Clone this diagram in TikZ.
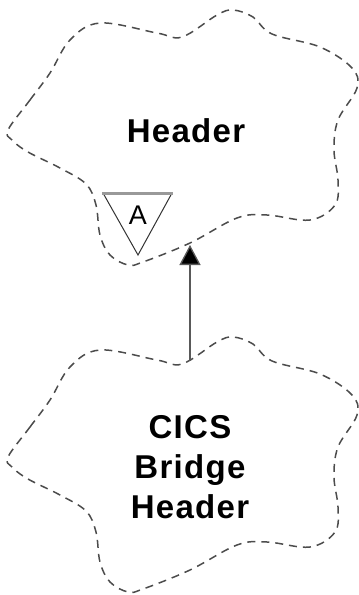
\documentclass[tikz,border=0pt]{standalone}
\usepackage{fontspec}
\setmainfont{Liberation Sans}
\usetikzlibrary{arrows.meta,positioning}

\begin{document}
\begin{tikzpicture}[
        x=1pt, y=-1pt,
        cloud/.style={draw=black!70, line width=1.5pt, dash pattern=on 8pt off 6pt},
        classname/.style={align=center, inner sep=0pt, font=\fontsize{33}{40}\selectfont\bfseries\addfontfeature{LetterSpace=4}},
        arrowstyle/.style={draw=black!65, line width=1.3pt, -{Triangle[length=20pt, width=21pt, fill=black]}}
    ]
        \useasboundingbox (0,0) rectangle (359,595);

        % both clouds share one outline
        \foreach \dy in {0,327}
            \draw[cloud, shift={(0,\dy)}] plot[smooth cycle, tension=0.6] coordinates {
                (8,130) (30,100) (50,73) (70,40) (100,23) (157,33) (182,37)
                (217,15) (233,10) (253,17) (272,34) (320,47) (352,68)
                (357,88) (338,120) (334,150) (338,180) (335,205) (310,220)
                (267,215) (237,218) (190,243) (143,262) (128,265) (110,255)
                (100,235) (96,205) (86,184) (60,168) (28,152) (12,140)};

        \node[classname] (header) at (186,131) {Header};
        \node[classname] (bridge) at (190,467) {CICS\\Bridge\\Header};

        % abstract marker
        \draw[black!80, line width=1pt] (103,193) -- (138,255) -- (172,193);
        \draw[black!40, line width=3pt] (102,193) -- (173,193);
        \node[font=\fontsize{27}{27}\selectfont, inner sep=0pt] (abstract) at (138,215) {A};

        \coordinate (from) at (190,361);
        \coordinate (to) at (190,245);
        \draw[arrowstyle] (from) -- (to);
    \end{tikzpicture}
\end{document}
